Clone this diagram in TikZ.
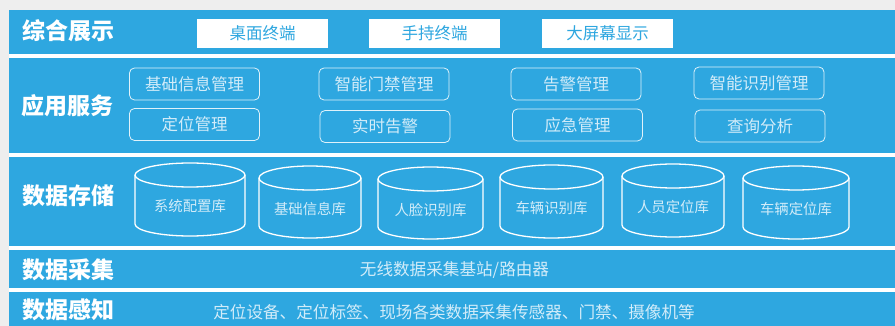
\documentclass[tikz,border=0pt]{standalone}
\usepackage{fontspec}
\setmainfont{Noto Sans CJK SC}
\usetikzlibrary{positioning}
\definecolor{bandblue}{HTML}{2EA7E0}
\definecolor{pale}{HTML}{D2ECF9}
\definecolor{bggray}{HTML}{EEEEEE}
\begin{document}
\begin{tikzpicture}[x=1pt,y=1pt,
    band/.style={fill=bandblue,draw=none},
    layer/.style={text=white,font=\fontsize{23}{23}\selectfont\bfseries,anchor=west,inner sep=0pt},
    term/.style={fill=white,text=bandblue,font=\fontsize{16.5}{16.5}\selectfont,minimum width=131pt,minimum height=29pt,inner sep=0pt},
    app/.style={draw=white!85!bandblue,line width=0.8pt,rounded corners=5pt,text=pale,font=\fontsize{16.5}{16.5}\selectfont,minimum width=130pt,minimum height=32pt,inner sep=0pt},
    db/.style={draw=white,line width=1.3pt},
    dblabel/.style={text=pale,font=\fontsize{14.4}{14.4}\selectfont},
    note/.style={text=pale,font=\fontsize{16.6}{16.6}\selectfont}]
    \useasboundingbox (0,0) rectangle (895,-326);
    \fill[bggray] (0,0) rectangle (895,-326);
    \fill[white] (9,-10) rectangle (895,-326);
    % layers
    \fill[band] (9,-10) rectangle (895,-54);
    \fill[band] (9,-58) rectangle (895,-153);
    \fill[band] (9,-157) rectangle (895,-246);
    \fill[band] (9,-250) rectangle (895,-287.5);
    \fill[band] (9,-291.5) rectangle (895,-326);
    \node[layer] (show) at (22,-31) {综合展示};
    \node[layer] (service) at (21,-106) {应用服务};
    \node[layer] (store) at (22,-196) {数据存储};
    \node[layer] (collect) at (22,-270) {数据采集};
    \node[layer] (sense) at (22,-310) {数据感知};
    % terminals
    \node[term] (desk) at (262.5,-33.5) {桌面终端};
    \node[term] (hand) at (434.5,-33.5) {手持终端};
    \node[term] (screen) at (607.5,-33.5) {大屏幕显示};
    % services
    \node[app] (basic) at (194.5,-84) {基础信息管理};
    \node[app] (door) at (384,-84) {智能门禁管理};
    \node[app] (alarm) at (576,-84) {告警管理};
    \node[app] (ident) at (759,-83) {智能识别管理};
    \node[app] (locate) at (194.5,-124.5) {定位管理};
    \node[app] (rtalarm) at (385,-126.5) {实时告警};
    \node[app] (emerg) at (577.5,-125) {应急管理};
    \node[app] (query) at (760,-126) {查询分析};
    % databases
    \foreach \xa/\xb/\yt/\yb/\txt [count=\i] in {135/245/163/236/系统配置库, 259/361/166/238/基础信息库, 378/483/167/239/人脸识别库, 500/603/165/238/车辆识别库, 622/724/164/237/人员定位库, 743/849/166/239/车辆定位库}{
      \draw[db] ({(\xa+\xb)/2},{-\yt-12}) ellipse [x radius={(\xb-\xa)/2}, y radius=12];
      \draw[db] (\xa,{-\yt-12}) -- (\xa,{-\yb+12}) arc[start angle=180, end angle=360, x radius={(\xb-\xa)/2}, y radius=12] -- (\xb,{-\yt-12});
      \node[dblabel] (db\i) at ({(\xa+\xb)/2},{-(\yt+\yb)/2-7}) {\txt};
    }
    % notes
    \node[note] (station) at (454.5,-270) {无线数据采集基站/路由器};
    \node[note] (device) at (454,-312) {定位设备、定位标签、现场各类数据采集传感器、门禁、摄像机等};
\end{tikzpicture}
\end{document}
